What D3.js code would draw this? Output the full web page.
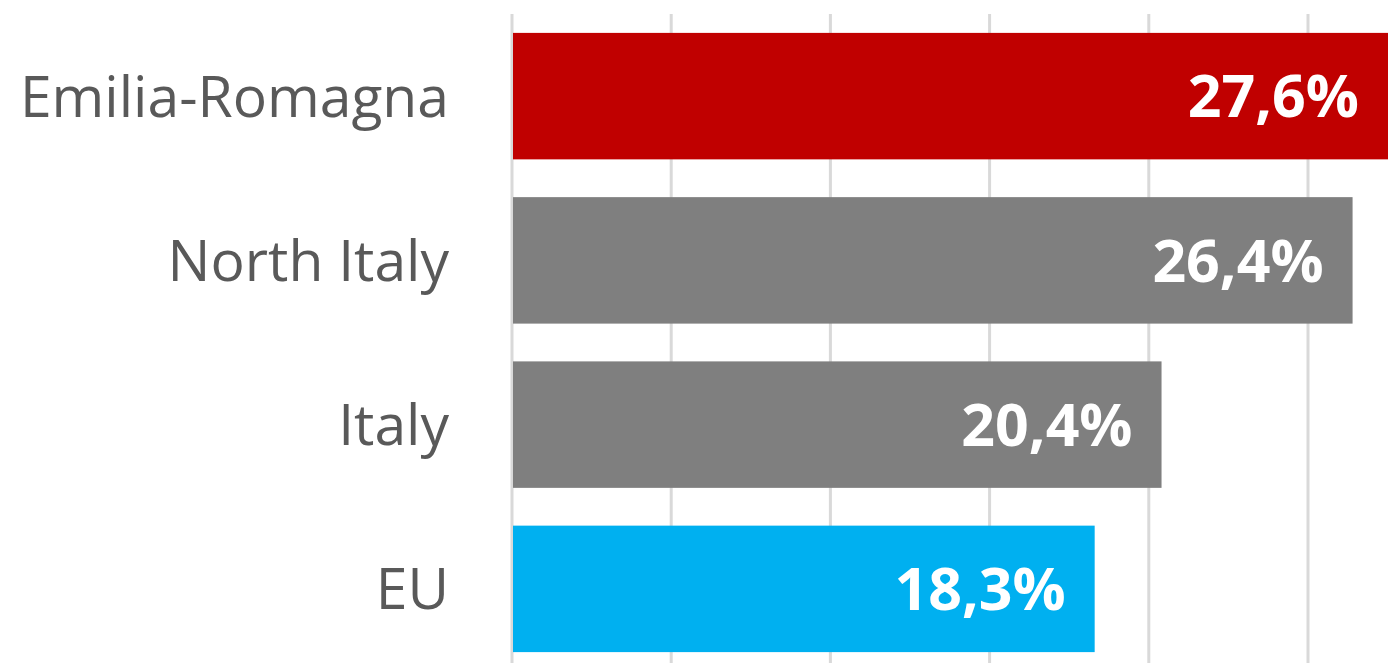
<!DOCTYPE html>
<html>
<head>
<meta charset="utf-8">
<script src="https://cdn.jsdelivr.net/npm/d3@7"></script>
<style>
  html, body { margin: 0; padding: 0; background: #fff; overflow: hidden; }
  svg { display: block; font-family: "Open Sans", sans-serif; }
</style>
</head>
<body>
<svg id="chart" width="1388" height="663"></svg>
<script>
var regions = ['Emilia-Romagna', 'North Italy', 'Italy', 'EU']
var shares = [27.6, 26.4, 20.4, 18.3]
var barColors = ['#C00000', '#7F7F7F', '#7F7F7F', '#00B0F0']
var gridTicks = [0, 5, 10, 15, 20, 25]

var svg = d3.select('#chart')

var x = d3.scaleLinear().domain([0, 25]).range([512, 1308])
var y = d3.scaleBand().domain(regions).range([14, 671]).paddingInner(0.23).paddingOuter(0.115)

// vertical gridlines
svg.append('g')
    .selectAll('line')
    .data(gridTicks)
    .join('line')
    .attr('x1', d => x(d))
    .attr('x2', d => x(d))
    .attr('y1', 14)
    .attr('y2', 663)
    .attr('stroke', '#D9D9D9')
    .attr('stroke-width', 3)

// bars
svg.append('g')
    .selectAll('rect')
    .data(regions)
    .join('rect')
    .attr('x', x(0) + 1)
    .attr('y', d => y(d))
    .attr('width', (d, i) => x(shares[i]) - x(0) - 1)
    .attr('height', y.bandwidth())
    .attr('fill', (d, i) => barColors[i])

// category labels
var yAxis = d3.axisLeft(y).tickSize(0).tickPadding(0)
var gy = svg.append('g')
    .attr('transform', 'translate(449,0)')
    .call(yAxis)
gy.select('.domain').remove()
gy.selectAll('text')
    .attr('font-family', '"Open Sans", sans-serif')
    .attr('font-size', '57px')
    .attr('fill', '#595959')
    .attr('dy', '0.36em')

// value labels
svg.append('g')
    .selectAll('text')
    .data(regions)
    .join('text')
    .attr('x', (d, i) => Math.min(x(shares[i]), 1388) - 29)
    .attr('y', d => y(d) + y.bandwidth() / 2)
    .attr('dy', '0.36em')
    .attr('text-anchor', 'end')
    .attr('font-size', '59px')
    .attr('font-weight', 'bold')
    .attr('fill', '#fff')
    .text((d, i) => shares[i].toFixed(1).replace('.', ',') + '%')
</script>
</body>
</html>
